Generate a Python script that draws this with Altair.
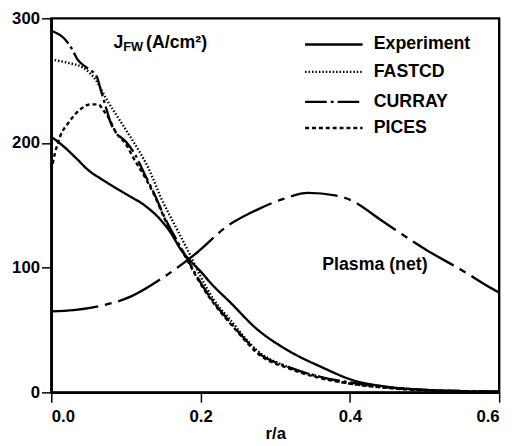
import altair as alt
import pandas as pd

# ---------------- data ----------------
r_exp = [0, 0.017, 0.033, 0.05, 0.07, 0.086, 0.103, 0.125, 0.147, 0.16, 0.173, 0.187, 0.2, 0.213, 0.24, 0.275, 0.319, 0.363, 0.403, 0.45, 0.5, 0.55, 0.6]
j_exp = [205, 197, 188, 178, 170, 164, 158, 150, 138, 128, 115, 105, 97, 88, 72, 51, 33, 20, 10, 4.5, 2, 1, 0.5]

r_fast = [0, 0.024, 0.041, 0.059, 0.074, 0.093, 0.11, 0.13, 0.147, 0.169, 0.187, 0.2, 0.218, 0.24, 0.262, 0.275, 0.319, 0.363, 0.4, 0.45, 0.5, 0.55, 0.6]
j_fast = [267, 264, 261, 251, 235, 217, 201, 180, 156, 130, 109, 93, 74, 58, 42, 34, 20, 12, 7, 4, 2, 1, 0.5]

r_curr = [0, 0.017, 0.028, 0.035, 0.046, 0.061, 0.066, 0.074, 0.079, 0.086, 0.1, 0.112, 0.125, 0.139, 0.152, 0.169, 0.185, 0.196, 0.218, 0.24, 0.262, 0.275, 0.319, 0.363, 0.4, 0.45, 0.5, 0.55, 0.6]
j_curr = [290, 284, 275, 267, 261, 253, 243, 227, 217, 209, 201, 191, 175, 158, 140, 121, 104, 92, 72, 56, 41, 33, 20, 12, 8, 4, 2, 1, 0.5]

r_pices = [0, 0.005, 0.011, 0.024, 0.037, 0.053, 0.063, 0.07, 0.077, 0.086, 0.1, 0.11, 0.125, 0.139, 0.152, 0.169, 0.185, 0.196, 0.218, 0.24, 0.262, 0.275, 0.319, 0.363, 0.4, 0.45, 0.5, 0.55, 0.6]
j_pices = [178, 192, 204, 217, 226, 231, 231, 226, 220, 209, 199, 188, 173, 157, 139, 120, 103, 91, 71, 55, 40, 32, 19, 11, 7, 3.5, 1.5, 0.8, 0.3]

r_plasma = [0, 0.03, 0.063, 0.107, 0.152, 0.195, 0.235, 0.274, 0.31, 0.344, 0.38, 0.402, 0.442, 0.503, 0.55, 0.591, 0.6]
j_plasma = [65, 66, 69, 77, 93, 112, 133, 146, 155, 160, 158, 154, 138, 114, 98, 83, 80]

series = ["Experiment", "FASTCD", "CURRAY", "PICES", "Plasma (net)"]
legend_names = ["Experiment", "FASTCD", "CURRAY", "PICES"]
legend_y = [279, 257, 233, 212]

dashes = [[1, 0], [1.5, 2], [22, 4, 3, 4], [4, 3], [48, 7, 7, 7]]
widths = [2.4, 2.4, 2.7, 3.0, 2.7]

rows = []
for name, rr, jj in zip(series, [r_exp, r_fast, r_curr, r_pices, r_plasma],
                        [j_exp, j_fast, j_curr, j_pices, j_plasma]):
    for i, (a, b) in enumerate(zip(rr, jj)):
        rows.append({"series": name, "r": a, "J": b, "i": i})
df = pd.DataFrame(rows)

leg = pd.DataFrame({"series": legend_names, "x0": [0.340] * 4, "x1": [0.417] * 4,
                    "xt": [0.432] * 4, "y": legend_y})

FONT = "Liberation Sans"

xs = alt.Scale(domain=[0, 0.6], nice=False)
ys = alt.Scale(domain=[0, 300], nice=False)
dash_scale = alt.Scale(domain=series, range=dashes)
width_scale = alt.Scale(domain=series, range=widths)

lines = alt.Chart(df).mark_line(color="black", strokeCap="butt", clip=True,
                                interpolate="monotone").encode(
    x=alt.X("r:Q", scale=xs, title="r/a",
            axis=alt.Axis(values=[0, 0.2, 0.4, 0.6], format=".1f")),
    y=alt.Y("J:Q", scale=ys, title=None,
            axis=alt.Axis(values=[0, 100, 200, 300], format="d")),
    detail="series:N",
    order="i:Q",
    strokeDash=alt.StrokeDash("series:N", scale=dash_scale, legend=None),
    strokeWidth=alt.StrokeWidth("series:N", scale=width_scale, legend=None),
)

leg_rules = alt.Chart(leg).mark_rule(color="black", strokeCap="butt").encode(
    x=alt.X("x0:Q", scale=xs),
    x2="x1:Q",
    y=alt.Y("y:Q", scale=ys),
    strokeDash=alt.StrokeDash("series:N", scale=dash_scale, legend=None),
    strokeWidth=alt.StrokeWidth("series:N", scale=width_scale, legend=None),
)

leg_text = alt.Chart(leg).mark_text(align="left", baseline="middle", font=FONT,
                                    fontWeight="bold", fontSize=18, color="black").encode(
    x=alt.X("xt:Q", scale=xs),
    y=alt.Y("y:Q", scale=ys),
    text="series:N",
)

ann = pd.DataFrame({
    "t": ["J", "FW", "(A/cm²)", "Plasma (net)"],
    "x": [0.0833, 0.0963, 0.127, 0.363],
    "y": [276, 273.5, 276, 102],
    "size": [18, 13, 18, 18],
    "base": ["alphabetic", "alphabetic", "alphabetic", "middle"],
})

ann_layers = []
for _, row in ann.iterrows():
    ann_layers.append(
        alt.Chart(pd.DataFrame([row])).mark_text(
            align="left", baseline=row["base"], font=FONT, fontWeight="bold",
            fontSize=float(row["size"]), color="black"
        ).encode(x=alt.X("x:Q", scale=xs), y=alt.Y("y:Q", scale=ys), text="t:N")
    )

chart = alt.layer(lines, leg_rules, leg_text, *ann_layers).properties(
    width=455, height=380,
    autosize=alt.AutoSizeParams(type="none"),
    padding={"left": 44, "top": 7, "right": 12, "bottom": 51},
).configure_view(
    stroke="black", strokeWidth=2.4
).configure_axis(
    grid=False,
    labelFont=FONT, labelFontWeight="bold", labelFontSize=17, labelColor="black",
    titleFont=FONT, titleFontWeight="bold", titleFontSize=17, titleColor="black",
    domainColor="black", domainWidth=2.4,
    tickColor="black", tickWidth=1.5, tickSize=10,
).configure_axisX(
    labelPadding=7, titlePadding=1,
).configure_axisY(
    labelPadding=2,
)

chart.save("out.html", embed_options={"renderer": "svg", "actions": False})
